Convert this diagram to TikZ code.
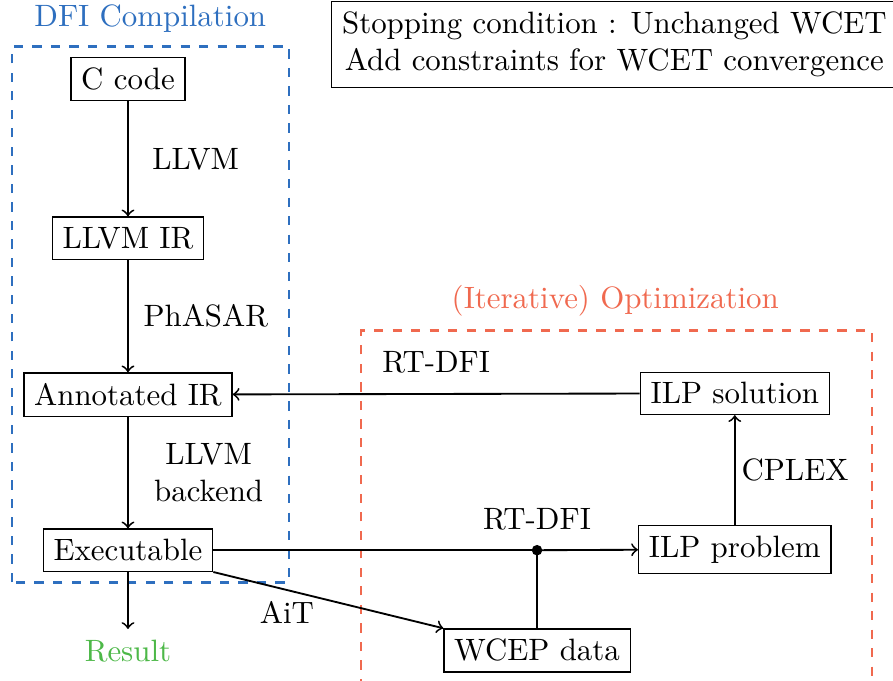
\documentclass[tikz,border=0pt]{standalone}
\usepackage{xcolor}
\usepackage{tikz}
\definecolor{DFIBlue}{HTML}{2E6FBF}
\definecolor{OptOrange}{HTML}{F0694F}
\definecolor{ResGreen}{HTML}{4DB848}

\begin{document}
\begin{tikzpicture}[semithick, box/.style={draw, thin}]
			\useasboundingbox (0,0) rectangle (10.16,7.74);

			% compilation part
			\node[DFIBlue] (dfititle) at (1.71,7.53) {DFI Compilation};
			\draw[DFIBlue, dashed, thick] (0.137,1.115) rectangle (3.29,7.21);
			\node[box] (ccode) at (1.456,6.84) {C code};
			\node[box] (llvmir) at (1.456,5.03) {LLVM IR};
			\node[box] (annotated) at (1.456,3.25) {Annotated IR};
			\node[box] (exe) at (1.456,1.48) {Executable};
			\node[ResGreen] (result) at (1.456,0.33) {Result};

			\draw[->] (ccode) -- (llvmir) node[pos=.5, right=.15cm] (llvmlabel) {LLVM};
			\draw[->] (llvmir) -- (annotated) node[pos=.5, right=.05cm] (phasarlabel) {PhASAR};
			\draw[->] (annotated) -- (exe) node[pos=.5, right=.17cm, align=center] (backendlabel) {LLVM\\backend};
			\draw[->] (exe) -- (result);

			% optimization part
			\node[OptOrange] (opttitle) at (7.0,4.32) {(Iterative) Optimization};
			\draw[OptOrange, dashed, thick] (4.107,-0.3) rectangle (9.92,3.98);
			\node[box] (wcep) at (6.11,0.34) {WCEP data};
			\node[box] (ilpproblem) at (8.36,1.49) {ILP problem};
			\node[box] (ilpsolution) at (8.36,3.265) {ILP solution};
			\coordinate (join) at (6.11,1.48);
			\fill (join) circle (.06);

			\draw (exe) -- (join) node[above=.1cm] (rtdfilow) {RT-DFI};
			\draw[->] (join) -- (ilpproblem);
			\draw (wcep) -- (join);
			\draw[->] (exe.south east) -- (wcep.north west) node[pos=.32, below] (aitlabel) {AiT};
			\draw[->] (ilpproblem) -- (ilpsolution) node[pos=.5, right, xshift=-.05cm] (cplexlabel) {CPLEX};
			\draw[->] (ilpsolution) -- (annotated) node[pos=.5, above=.11cm] (rtdfihigh) {RT-DFI};

			% stopping condition
			\node[box, align=center] (stopping) at (6.99,7.236) {Stopping condition : Unchanged WCET\\Add constraints for WCET convergence};
		\end{tikzpicture}
\end{document}
